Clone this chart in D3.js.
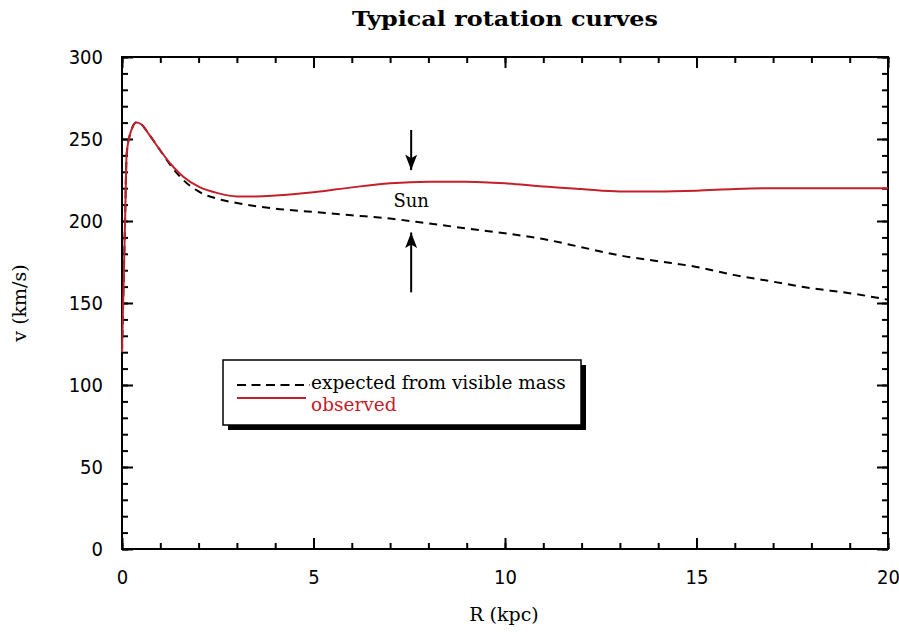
<html>
<head>
<meta charset="utf-8">
<style>
  body { margin: 0; background: #fff; }
  svg text { fill: #000; }
</style>
</head>
<body>
<div id="chart"></div>
<script src="https://d3js.org/d3.v7.min.js"></script>
<script>
'use strict';

// rotation curve readings, R in kpc, v in km/s
var observedR = [0, 0.04, 0.08, 0.12, 0.2, 0.27, 0.37, 0.5, 0.7, 1.0, 1.3, 1.6, 2.0, 2.5, 3.0, 3.5, 4.0, 5.0, 6.0, 7.0, 8.0, 9.0, 10.0, 11.0, 12.0, 13.0, 14.0, 15.0, 16.0, 17.0, 18.0, 19.0, 20.0];
var observedV = [120, 160, 200, 240, 252, 257, 260, 259, 253, 243, 234, 227, 221, 217, 215, 215, 215.5, 217.5, 220.5, 223, 224, 224, 223, 221, 219.5, 218, 218, 218.5, 219.5, 220, 220, 220, 220];

var expectedR = [0, 0.04, 0.08, 0.12, 0.2, 0.27, 0.37, 0.5, 0.7, 1.0, 1.3, 1.6, 2.0, 2.5, 3.0, 3.5, 4.0, 5.0, 6.0, 7.0, 8.0, 9.0, 10.0, 11.0, 12.0, 13.0, 14.0, 15.0, 16.0, 17.0, 18.0, 19.0, 20.0];
var expectedV = [120, 160, 200, 240, 252, 257, 260, 259, 253, 243, 233, 225, 218, 213.5, 211, 209, 207.5, 205.5, 203.5, 201.5, 198.5, 195.5, 192.5, 189, 184, 179, 175.5, 172, 167, 163, 159, 156, 152];

var xMajor = [0, 5, 10, 15, 20];
var yMajor = [0, 50, 100, 150, 200, 250, 300];

// Sun marker: radius and arrow ends
var sunR = 7.55;
var downArrow = [255.5, 231];
var upArrow = [156.5, 193];

var legendItems = ['expected from visible mass', 'observed'];

var red = '#c4202b';
var W = 899, H = 635;
var m = {top: 57, right: 11, bottom: 86, left: 122};
var iw = W - m.left - m.right, ih = H - m.top - m.bottom;

var svg = d3.select('#chart').append('svg')
    .attr('width', W).attr('height', H);

var x = d3.scaleLinear().domain([0, 20]).range([0, iw]);
var y = d3.scaleLinear().domain([0, 300]).range([ih, 0]);

var g = svg.append('g').attr('transform', 'translate(' + m.left + ',' + m.top + ')');

var minorX = d3.range(0, 21, 1), minorY = d3.range(0, 301, 10);

function styleAxis(sel) {
  sel.select('.domain').remove();
  sel.selectAll('line').attr('stroke', '#000').attr('stroke-width', 2);
  sel.selectAll('text')
    .style('font-family', '"DejaVu Sans Condensed", "DejaVu Sans", sans-serif')
    .style('font-size', '20px').attr('fill', '#333');
}

// minor ticks on all sides
g.append('g').attr('transform', 'translate(0,' + ih + ')')
  .call(d3.axisBottom(x).tickValues(minorX).tickSize(-6).tickFormat('')).call(styleAxis);
g.append('g')
  .call(d3.axisTop(x).tickValues(minorX).tickSize(-6).tickFormat('')).call(styleAxis);
g.append('g')
  .call(d3.axisLeft(y).tickValues(minorY).tickSize(-6).tickFormat('')).call(styleAxis);
g.append('g').attr('transform', 'translate(' + iw + ',0)')
  .call(d3.axisRight(y).tickValues(minorY).tickSize(-6).tickFormat('')).call(styleAxis);

// major ticks + labels
g.append('g').attr('transform', 'translate(0,' + ih + ')')
  .call(d3.axisBottom(x).tickValues(xMajor).tickSize(-11).tickPadding(21)).call(styleAxis);
g.append('g')
  .call(d3.axisTop(x).tickValues(xMajor).tickSize(-11).tickFormat('')).call(styleAxis);
g.append('g')
  .call(d3.axisLeft(y).tickValues(yMajor).tickSize(-11).tickPadding(19)).call(styleAxis);
g.append('g').attr('transform', 'translate(' + iw + ',0)')
  .call(d3.axisRight(y).tickValues(yMajor).tickSize(-11).tickFormat('')).call(styleAxis);

// frame
g.append('rect').attr('width', iw).attr('height', ih)
  .attr('fill', 'none').attr('stroke', '#000').attr('stroke-width', 2);

var line = d3.line()
  .x(function(d) { return x(d[0]); })
  .y(function(d) { return y(d[1]); })
  .curve(d3.curveMonotoneX);

g.append('path')
  .datum(d3.zip(expectedR, expectedV))
  .attr('d', line).attr('fill', 'none')
  .attr('stroke', '#000').attr('stroke-width', 2).attr('stroke-dasharray', '8,6');

g.append('path')
  .datum(d3.zip(observedR, observedV))
  .attr('d', line).attr('fill', 'none')
  .attr('stroke', red).attr('stroke-width', 2);

// Sun arrows
var defs = svg.append('defs');
defs.append('marker').attr('id', 'arr')
  .attr('viewBox', '0 0 13 10').attr('refX', 13).attr('refY', 5)
  .attr('markerWidth', 8).attr('markerHeight', 6).attr('markerUnits', 'strokeWidth')
  .attr('orient', 'auto')
  .append('path').attr('d', 'M0,0 L13,5 L0,10 L3,5 z').attr('fill', '#000');

[downArrow, upArrow].forEach(function(a) {
  g.append('line')
    .attr('x1', x(sunR)).attr('x2', x(sunR))
    .attr('y1', y(a[0])).attr('y2', y(a[1]))
    .attr('stroke', '#000').attr('stroke-width', 2)
    .attr('marker-end', 'url(#arr)');
});

g.append('text')
  .attr('x', x(sunR)).attr('y', y(208.6))
  .attr('text-anchor', 'middle')
  .style('font-family', '"DejaVu Serif", serif').style('font-size', '18px')
  .text('Sun');

// legend
var lg = svg.append('g').attr('transform', 'translate(223,360)');
lg.append('rect').attr('x', 5).attr('y', 5).attr('width', 358).attr('height', 65).attr('fill', '#000');
lg.append('rect').attr('width', 358).attr('height', 65)
  .attr('fill', '#fff').attr('stroke', '#000').attr('stroke-width', 1.5);

lg.append('line').attr('x1', 14).attr('x2', 87).attr('y1', 25).attr('y2', 25)
  .attr('stroke', '#000').attr('stroke-width', 2).attr('stroke-dasharray', '9,5.5');
lg.append('line').attr('x1', 14).attr('x2', 83).attr('y1', 38).attr('y2', 38)
  .attr('stroke', red).attr('stroke-width', 2);

lg.selectAll('text.leg').data(legendItems).enter().append('text')
  .attr('class', 'leg')
  .attr('x', 88).attr('y', function(d, i) { return 29 + i * 22; })
  .style('font-family', '"DejaVu Serif", serif').style('font-size', '18.5px')
  .style('fill', function(d, i) { return i ? red : '#000'; })
  .text(function(d) { return d; });

// title and axis labels
svg.append('text').attr('x', 505).attr('y', 26).attr('text-anchor', 'middle')
  .attr('textLength', 306).attr('lengthAdjust', 'spacingAndGlyphs')
  .style('font-family', '"DejaVu Serif", serif').style('font-weight', 'bold').style('font-size', '20px')
  .text('Typical rotation curves');

svg.append('text').attr('x', 504).attr('y', 621).attr('text-anchor', 'middle')
  .style('font-family', '"DejaVu Serif", serif').style('font-size', '19px')
  .text('R (kpc)');

svg.append('text').attr('transform', 'translate(26,303) rotate(-90)').attr('text-anchor', 'middle')
  .style('font-family', '"DejaVu Serif", serif').style('font-size', '19px')
  .text('v (km/s)');
</script>
</body>
</html>
